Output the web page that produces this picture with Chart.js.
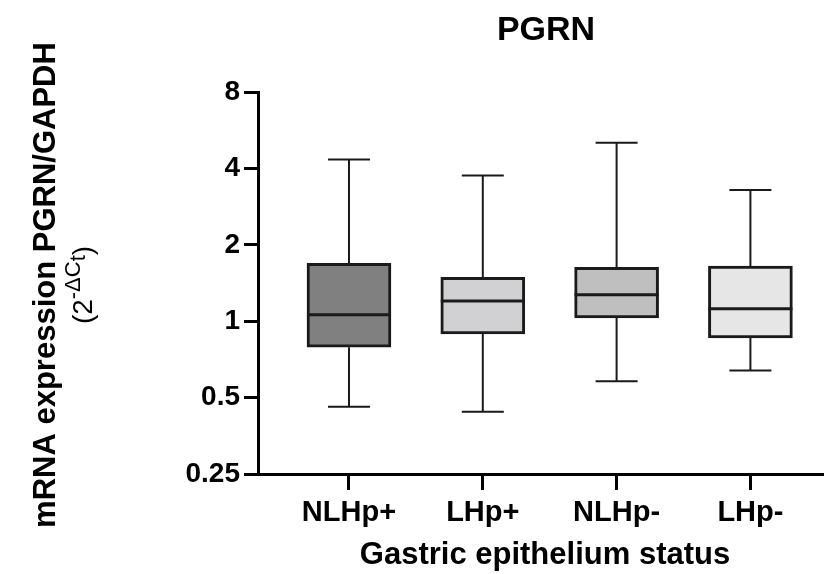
<!DOCTYPE html>
<html>
<head>
<meta charset="utf-8">
<script src="https://cdn.jsdelivr.net/npm/chart.js@4/dist/chart.umd.min.js"></script>
<style>
  body { margin: 0; background: #fff; }
  #box_chart { display: block; }
</style>
</head>
<body>
<canvas id="box_chart" width="824" height="574"></canvas>
<script>
// groups and box plot summary values (2^-dCt)
var categories = ["NLHp+", "LHp+", "NLHp-", "LHp-"];
var minVals    = [0.46, 0.44, 0.58, 0.64];
var q1Vals     = [0.79, 0.89, 1.03, 0.86];
var medianVals = [1.06, 1.20, 1.27, 1.12];
var q3Vals     = [1.69, 1.49, 1.63, 1.65];
var maxVals    = [4.34, 3.75, 5.05, 3.29];
var boxColors  = ["#808080", "#d1d1d3", "#bfbfbf", "#e6e6e6"];
var yTicks     = [0.25, 0.5, 1, 2, 4, 8];

var FONT = "'Liberation Sans', Arial, sans-serif";

// whiskers, caps and medians, placed with the chart's own scales
var boxExtras = {
    id: 'boxExtras',
    afterDatasetsDraw: function(chart) {
        var ctx = chart.ctx;
        var xs = chart.scales.x, ys = chart.scales.y;
        var meta = chart.getDatasetMeta(0);
        ctx.save();
        ctx.strokeStyle = "#1a1a1a";
        meta.data.forEach(function(bar, i) {
            var cx = xs.getPixelForValue(i + 1);
            var half = bar.width / 2;
            var cap = bar.width / 4;
            ctx.lineWidth = 2;
            ctx.beginPath();
            ctx.moveTo(cx, ys.getPixelForValue(q3Vals[i]));
            ctx.lineTo(cx, ys.getPixelForValue(maxVals[i]));
            ctx.moveTo(cx, ys.getPixelForValue(q1Vals[i]));
            ctx.lineTo(cx, ys.getPixelForValue(minVals[i]));
            ctx.moveTo(cx - cap, ys.getPixelForValue(maxVals[i]));
            ctx.lineTo(cx + cap, ys.getPixelForValue(maxVals[i]));
            ctx.moveTo(cx - cap, ys.getPixelForValue(minVals[i]));
            ctx.lineTo(cx + cap, ys.getPixelForValue(minVals[i]));
            ctx.stroke();
            ctx.lineWidth = 3;
            ctx.beginPath();
            ctx.moveTo(cx - half, ys.getPixelForValue(medianVals[i]));
            ctx.lineTo(cx + half, ys.getPixelForValue(medianVals[i]));
            ctx.stroke();
        });
        ctx.restore();
    }
};

// title and axis titles
var titles = {
    id: 'titles',
    afterDraw: function(chart) {
        var ctx = chart.ctx;
        ctx.save();
        ctx.fillStyle = "#000";
        ctx.textAlign = "center";
        ctx.textBaseline = "middle";
        ctx.font = "bold 34px " + FONT;
        ctx.fillText("PGRN", 546, 31);
        ctx.font = "bold 31px " + FONT;
        ctx.fillText("Gastric epithelium status", 545, 555);

        ctx.translate(46, 285);
        ctx.rotate(-Math.PI / 2);
        ctx.font = "bold 31px " + FONT;
        ctx.fillText("mRNA expression PGRN/GAPDH", 0, 0);

        // second line: (2^-ΔCt)
        var big = "28px " + FONT, small = "22px " + FONT;
        var parts = [["(2", big, 0], ["-\u0394C", small, -10], ["t", small, -5], [")", big, 0]];
        var total = 0;
        parts.forEach(function(p) { ctx.font = p[1]; total += ctx.measureText(p[0]).width; });
        var x = -total / 2;
        ctx.textAlign = "left";
        parts.forEach(function(p) {
            ctx.font = p[1];
            ctx.fillText(p[0], x, 38 + p[2]);
            x += ctx.measureText(p[0]).width;
        });
        ctx.restore();
    }
};

var ctx = document.getElementById("box_chart");
new Chart(ctx, {
    type: 'bar',
    data: {
        datasets: [{
            data: categories.map(function(c, i) { return { x: i + 1, y: [q1Vals[i], q3Vals[i]] }; }),
            backgroundColor: boxColors,
            borderColor: "#1a1a1a",
            borderWidth: 3,
            borderSkipped: false,
            barThickness: 84
        }]
    },
    options: {
        responsive: false,
        animation: false,
        layout: { padding: { top: 92, right: 0, bottom: 0, left: 0 } },
        plugins: {
            legend: { display: false },
            tooltip: { enabled: false }
        },
        scales: {
            x: {
                type: 'linear',
                min: 0.32,
                max: 4.55,
                offset: false,
                afterFit: function(scale) { scale.height = 100; },
                afterBuildTicks: function(scale) {
                    scale.ticks = categories.map(function(c, i) { return { value: i + 1 }; });
                },
                grid: { drawOnChartArea: false, offset: false, tickLength: 16, tickWidth: 3, tickColor: "#000" },
                border: { color: "#000", width: 3 },
                ticks: {
                    color: "#000",
                    padding: 6,
                    maxRotation: 0,
                    font: { family: FONT, size: 29, weight: 'bold' },
                    callback: function(v) { return categories[v - 1]; }
                }
            },
            y: {
                type: 'logarithmic',
                min: 0.25,
                max: 8,
                afterFit: function(scale) { scale.width = 258; },
                afterBuildTicks: function(scale) {
                    scale.ticks = yTicks.map(function(v) { return { value: v }; });
                },
                grid: { drawOnChartArea: false, tickLength: 14, tickWidth: 3, tickColor: "#000" },
                border: { color: "#000", width: 3 },
                ticks: {
                    color: "#000",
                    padding: 4,
                    font: { family: FONT, size: 28, weight: 'bold' },
                    callback: function(v) { return String(v); }
                }
            }
        }
    },
    plugins: [boxExtras, titles]
});
</script>
</body>
</html>
